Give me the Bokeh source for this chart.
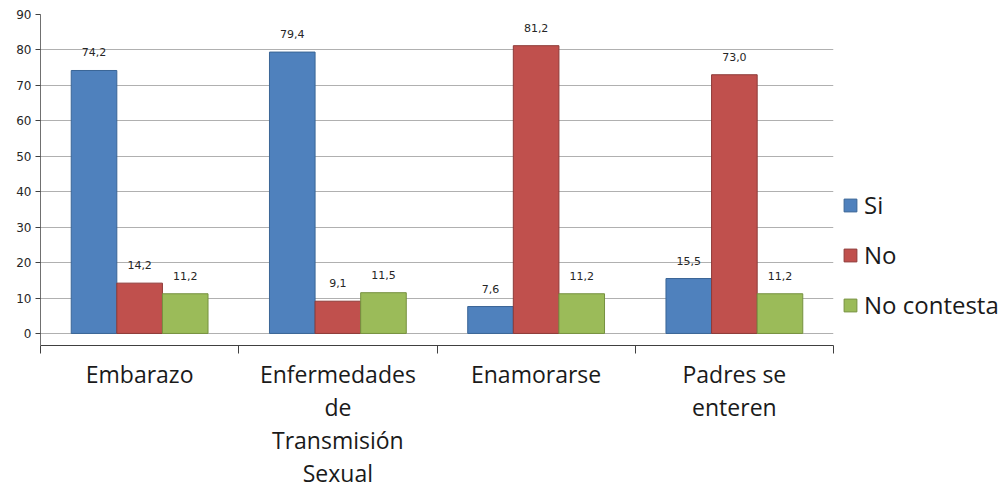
from bokeh.plotting import figure
from bokeh.models import Range1d, FixedTicker, Legend, LegendItem, ColumnDataSource
from bokeh.core.properties import value
from bokeh.embed import file_html
from bokeh.resources import INLINE

# ---- data ----
categories = ["Embarazo", "Enfermedades\nde\nTransmisión\nSexual", "Enamorarse", "Padres se\nenteren"]
series = ["Si", "No", "No contesta"]
si = [74.2, 79.4, 7.6, 15.5]
no = [14.2, 9.1, 81.2, 73.0]
no_contesta = [11.2, 11.5, 11.2, 11.2]
y_ticks = [0, 10, 20, 30, 40, 50, 60, 70, 80, 90]

colors = ["#4F81BD", "#C0504D", "#9BBB59"]
edge_colors = ["#3A6596", "#8E3A38", "#76913F"]
values = [si, no, no_contesta]

bar_w = 0.23
offsets = [-bar_w, 0.0, bar_w]

p = figure(frame_width=793, frame_height=331, output_backend="svg", toolbar_location=None,
           x_range=Range1d(0, 4), y_range=Range1d(-3.4, 90),
           min_border_left=40, min_border_top=14, min_border_right=0, min_border_bottom=0)
p.outline_line_color = None
p.background_fill_color = "white"
p.border_fill_color = "white"

centers = [i + 0.5 for i in range(len(categories))]

legend_items = []
for k, (name, vals) in enumerate(zip(series, values)):
    src = ColumnDataSource(dict(
        x=[c + offsets[k] for c in centers],
        top=vals,
        lab=[("%.1f" % v).replace(".", ",") for v in vals],
    ))
    r = p.vbar(x="x", top="top", bottom=0, width=bar_w, source=src,
               fill_color=colors[k], line_color=edge_colors[k], line_width=1)
    p.text(x="x", y="top", text="lab", source=src, y_offset=-18,
           text_align="center", text_baseline="middle",
           text_font=value("DejaVu Sans"), text_font_size="11px", text_color="#262626")
    legend_items.append(LegendItem(label=name, renderers=[r]))

# axes
xa = p.xaxis[0]
xa.ticker = FixedTicker(ticks=centers, minor_ticks=[0, 1, 2, 3, 4])
xa.major_label_overrides = {c: lab for c, lab in zip(centers, categories)}
xa.major_tick_out = 0
xa.major_tick_in = 0
xa.minor_tick_out = 8
xa.minor_tick_in = 0
xa.minor_tick_line_color = "#404040"
xa.axis_line_color = "#404040"
xa.major_label_standoff = 4
xa.major_label_text_font = "Open Sans"
xa.major_label_text_font_size = "23px"
xa.major_label_text_color = "#1a1a1a"
xa.major_label_text_line_height = 1.04

ya = p.yaxis[0]
ya.ticker = FixedTicker(ticks=y_ticks)
ya.major_tick_out = 5
ya.major_tick_in = 0
ya.minor_tick_line_color = None
ya.axis_line_color = "#707070"
ya.major_tick_line_color = "#404040"
ya.major_label_standoff = 4
ya.major_label_text_font = "DejaVu Sans"
ya.major_label_text_font_size = "12px"
ya.major_label_text_color = "#262626"

p.xgrid.grid_line_color = None
p.ygrid.ticker = FixedTicker(ticks=y_ticks)
p.ygrid.grid_line_color = "#b0b0b0"
p.ygrid.grid_line_width = 1

legend = Legend(items=legend_items, location=(9, 24),
                label_text_font="Open Sans", label_text_font_size="24px",
                label_text_color="#1a1a1a",
                glyph_width=16, glyph_height=16, spacing=17, padding=4, margin=6,
                label_standoff=6, border_line_color=None, background_fill_alpha=0)
p.add_layout(legend, "right")

open("out.html", "w").write(file_html(p, INLINE))
